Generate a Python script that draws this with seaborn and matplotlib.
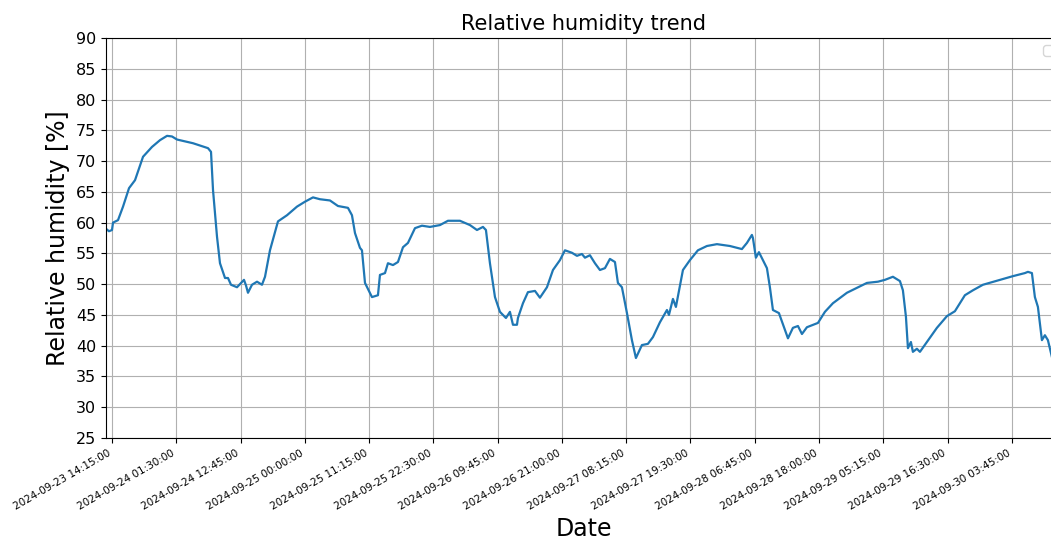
import matplotlib
matplotlib.use("Agg")
import matplotlib.pyplot as plt
import numpy as np
import pandas as pd
import seaborn as sns

# ---- data ----
start_time = "2024-09-23 14:15:00"
hours_since_start = [
    -1.23, -1.05, -0.53, 0.0, 0.18, 1.05, 1.93, 2.98, 4.03, 5.43, 7.00, 8.40, 9.63,
    10.50, 11.38, 14.18, 16.80, 17.33, 17.68, 18.38, 18.90, 19.78, 20.30, 20.83,
    21.88, 23.10, 23.45, 23.80, 24.50, 25.38, 26.25, 26.78, 27.65, 29.05, 30.63,
    32.38, 33.78, 35.18, 36.40, 38.15, 39.55, 41.30, 42.00, 42.53, 43.40, 43.75,
    44.28, 45.50, 46.55, 46.90, 47.78, 48.30, 49.18, 50.05, 50.93, 51.80, 53.03,
    54.25, 55.65, 57.40, 58.80, 60.90, 62.65, 63.88, 64.93, 65.45, 66.15, 67.03,
    67.90, 68.95, 69.65, 70.18, 70.88, 71.05, 71.93, 72.80, 74.03, 74.90, 76.13,
    77.18, 78.40, 79.28, 80.50, 81.38, 82.25, 82.78, 83.65, 84.53, 85.40, 86.28,
    87.15, 88.03, 88.55, 89.25, 90.13, 91.00, 91.70, 92.75, 93.80, 94.68, 95.90,
    97.13, 97.48, 98.18, 98.70, 99.93, 101.15, 102.55, 104.13, 105.88, 108.15,
    110.25, 111.13, 112.00, 112.18, 112.70, 113.23, 114.63, 115.15, 115.68,
    116.73, 118.31, 119.18, 120.06, 120.76, 121.63, 123.56, 124.78, 126.18,
    128.63, 130.38, 132.13, 134.06, 135.28, 136.68, 137.91, 138.43, 138.96,
    139.31, 139.83, 140.18, 140.88, 141.41, 142.63, 144.38, 146.13, 147.53,
    149.28, 150.68, 152.43, 155.41, 157.68, 159.78, 160.31, 161.01, 161.53,
    162.06, 162.76, 163.28, 163.81, 164.68,
]
humidity = [
    58.8, 59.0, 58.6, 58.8, 60.0, 60.4, 62.6, 65.6, 66.9, 70.7, 72.3, 73.4, 74.1,
    74.0, 73.5, 72.9, 72.1, 71.5, 65.3, 57.7, 53.4, 51.0, 51.0, 49.9,
    49.5, 50.7, 49.8, 48.6, 49.9, 50.4, 49.9, 51.2, 55.5, 60.2, 61.2,
    62.6, 63.4, 64.1, 63.8, 63.6, 62.7, 62.4, 61.2, 58.3, 55.9, 55.5,
    50.2, 47.9, 48.2, 51.5, 51.8, 53.4, 53.1, 53.6, 56.0, 56.7, 59.1,
    59.5, 59.3, 59.6, 60.3, 60.3, 59.6, 58.8, 59.3, 58.8, 53.4, 47.9,
    45.5, 44.5, 45.5, 43.4, 43.4, 44.5, 46.9, 48.7, 48.9, 47.8, 49.5,
    52.3, 53.9, 55.5, 55.1, 54.6, 54.9, 54.3, 54.7, 53.4, 52.3, 52.6,
    54.1, 53.6, 50.2, 49.5, 45.3, 40.9, 38.0, 40.1, 40.3, 41.4, 43.8,
    45.8, 45.0, 47.6, 46.3, 52.3, 53.9, 55.5, 56.2, 56.5, 56.2,
    55.7, 56.7, 58.0, 57.5, 54.3, 55.2, 52.6, 49.5, 45.8,
    45.3, 41.2, 42.9, 43.2, 41.9, 43.0, 43.7, 45.5, 46.9,
    48.6, 49.4, 50.2, 50.4, 50.7, 51.2, 50.5, 49.0, 44.7,
    39.6, 40.6, 39.0, 39.5, 39.0, 40.6, 42.9, 44.8, 45.6,
    48.2, 49.0, 49.9, 50.7, 51.3, 51.8, 52.0, 51.8, 47.9,
    46.3, 40.9, 41.7, 40.9, 37.5,
]
tick_step = "11h15min"
n_ticks = 15

t0 = pd.Timestamp(start_time)
dates = t0 + pd.to_timedelta(hours_since_start, unit="h")
df = pd.DataFrame({"Date": dates, "Relative humidity": humidity})

fig = plt.figure(figsize=(10.51, 5.43), dpi=100)
ax = fig.add_axes([106 / 1051, 105 / 543, 955 / 1051, 400 / 543])

sns.lineplot(data=df, x="Date", y="Relative humidity", ax=ax,
             color="#1f77b4", linewidth=1.6)

ticks = pd.date_range(t0, periods=n_ticks, freq=tick_step)
ax.set_xticks(ticks)
ax.set_xticklabels([t.strftime("%Y-%m-%d %H:%M:%S") for t in ticks],
                   rotation=30, ha="right", fontsize=7.5)
ax.set_xlim(t0 - pd.Timedelta(hours=1.05), t0 + pd.Timedelta(hours=166.1))
ax.set_ylim(25, 90)
ax.set_yticks(np.arange(25, 91, 5))
ax.tick_params(axis="y", labelsize=11.5)
ax.grid(True)

ax.set_title("Relative humidity trend", fontsize=15)
ax.set_xlabel("Date", fontsize=17)
ax.set_ylabel("Relative humidity [%]", fontsize=17)
leg = ax.legend(handles=[], loc="upper right")

fig.savefig("out.png", dpi=100)
